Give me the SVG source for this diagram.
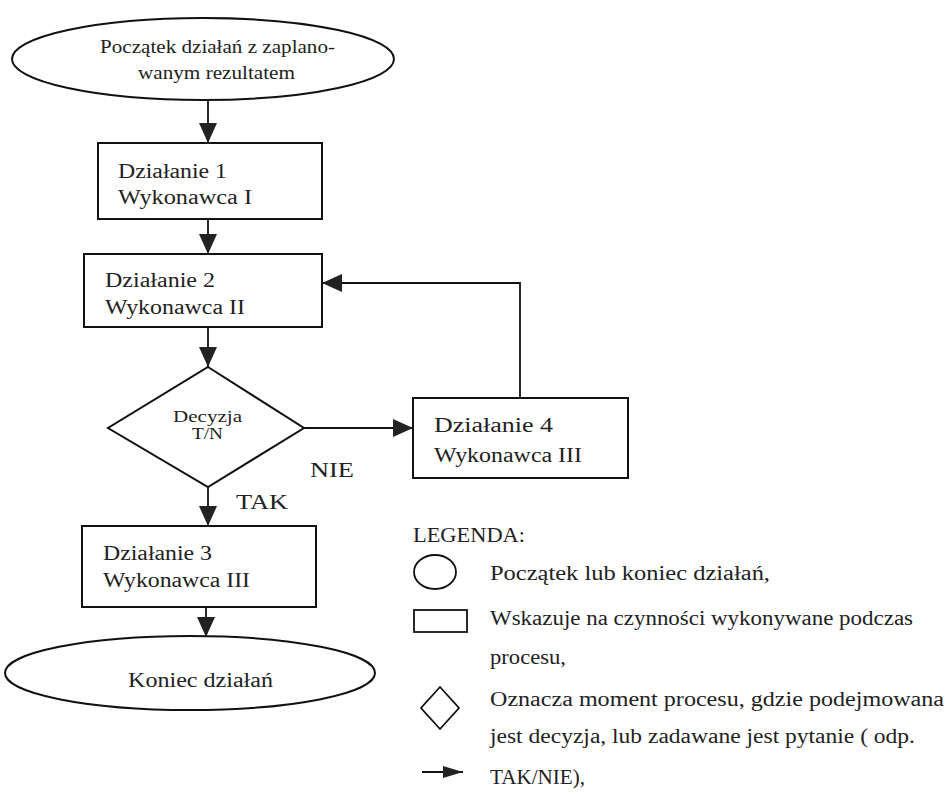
<svg xmlns="http://www.w3.org/2000/svg" width="948" height="795" viewBox="0 0 948 795">
<style>
text{font-family:"Liberation Serif","Times New Roman",serif;fill:#222}
.shape{fill:#fff;stroke:#111;stroke-width:2}
.lg{fill:none;stroke:#111;stroke-width:1.8}
.conn{fill:none;stroke:#111;stroke-width:1.8}
.t20{font-size:20px}
.t18{font-size:18px}
.t16{font-size:16px}
</style>
<defs>
<marker id="ah" markerUnits="userSpaceOnUse" markerWidth="20" markerHeight="18" refX="20" refY="9" orient="auto">
<path d="M0,0 L20,9 L0,18 Z" fill="#222"/>
</marker>
<marker id="ahs" markerUnits="userSpaceOnUse" markerWidth="20" markerHeight="12" refX="20" refY="6" orient="auto">
<path d="M0,0 L20,6 L0,12 Z" fill="#222"/>
</marker>
</defs>

<g id="connectors">
<line class="conn" x1="208" y1="100" x2="208" y2="143" marker-end="url(#ah)"/>
<line class="conn" x1="208" y1="219" x2="208" y2="254" marker-end="url(#ah)"/>
<line class="conn" x1="208" y1="327" x2="208" y2="367" marker-end="url(#ah)"/>
<line class="conn" x1="304" y1="428" x2="413" y2="428" marker-end="url(#ah)"/>
<polyline class="conn" points="520,398 520,283 322,283" marker-end="url(#ah)"/>
<line class="conn" x1="208" y1="487" x2="208" y2="526" marker-end="url(#ah)"/>
<line class="conn" x1="206" y1="607" x2="206" y2="637" marker-end="url(#ah)"/>
<text class="t20" x="310" y="477" textLength="44" lengthAdjust="spacingAndGlyphs">NIE</text>
<text class="t20" x="236" y="509" textLength="52" lengthAdjust="spacingAndGlyphs">TAK</text>
</g>

<g id="start">
<ellipse class="shape" cx="203" cy="59" rx="191" ry="41"/>
<text class="t18" x="100" y="53" textLength="235" lengthAdjust="spacingAndGlyphs">Początek działań z zaplano-</text>
<text class="t18" x="138" y="79" textLength="157" lengthAdjust="spacingAndGlyphs">wanym rezultatem</text>
</g>

<g id="action1">
<rect class="shape" x="98" y="143" width="224" height="76"/>
<text class="t20" x="118" y="178" textLength="109" lengthAdjust="spacingAndGlyphs">Działanie 1</text>
<text class="t20" x="118" y="204" textLength="134" lengthAdjust="spacingAndGlyphs">Wykonawca I</text>
</g>

<g id="action2">
<rect class="shape" x="84" y="254" width="238" height="73"/>
<text class="t20" x="105" y="287" textLength="110" lengthAdjust="spacingAndGlyphs">Działanie 2</text>
<text class="t20" x="105" y="314" textLength="140" lengthAdjust="spacingAndGlyphs">Wykonawca II</text>
</g>

<g id="decision">
<polygon class="shape" points="208,367 304,428 208,487 108,428"/>
<text class="t16" x="173" y="422" textLength="69" lengthAdjust="spacingAndGlyphs">Decyzja</text>
<text class="t16" x="192" y="439" textLength="31" lengthAdjust="spacingAndGlyphs">T/N</text>
</g>

<g id="action4">
<rect class="shape" x="413" y="398" width="215" height="80"/>
<text class="t20" x="434" y="432" textLength="119" lengthAdjust="spacingAndGlyphs">Działanie 4</text>
<text class="t20" x="434" y="462" textLength="148" lengthAdjust="spacingAndGlyphs">Wykonawca III</text>
</g>

<g id="action3">
<rect class="shape" x="82" y="526" width="234" height="81"/>
<text class="t20" x="103" y="560" textLength="109" lengthAdjust="spacingAndGlyphs">Działanie 3</text>
<text class="t20" x="103" y="587" textLength="147" lengthAdjust="spacingAndGlyphs">Wykonawca III</text>
</g>

<g id="end">
<ellipse class="shape" cx="190" cy="673" rx="185" ry="37"/>
<text class="t20" x="128" y="687" textLength="145" lengthAdjust="spacingAndGlyphs">Koniec działań</text>
</g>

<g id="legend">
<text class="t20" x="413" y="542" textLength="112" lengthAdjust="spacingAndGlyphs">LEGENDA:</text>
<ellipse class="lg" cx="435" cy="572" rx="21" ry="17"/>
<text class="t20" x="490" y="580" textLength="280" lengthAdjust="spacingAndGlyphs">Początek lub koniec działań,</text>
<rect class="lg" x="414" y="610" width="53" height="22"/>
<text class="t20" x="490" y="625" textLength="423" lengthAdjust="spacingAndGlyphs">Wskazuje na czynności wykonywane podczas</text>
<text class="t20" x="490" y="664" textLength="76" lengthAdjust="spacingAndGlyphs">procesu,</text>
<polygon class="lg" points="440,687 459,708 440,729 421,708"/>
<text class="t20" x="490" y="706" textLength="454" lengthAdjust="spacingAndGlyphs">Oznacza moment procesu, gdzie podejmowana</text>
<text class="t20" x="490" y="743" textLength="425" lengthAdjust="spacingAndGlyphs">jest decyzja, lub zadawane jest pytanie ( odp.</text>
<line class="lg" x1="422" y1="772" x2="463" y2="772" marker-end="url(#ahs)"/>
<text class="t20" x="490" y="784" textLength="95" lengthAdjust="spacingAndGlyphs">TAK/NIE),</text>
</g>
</svg>
